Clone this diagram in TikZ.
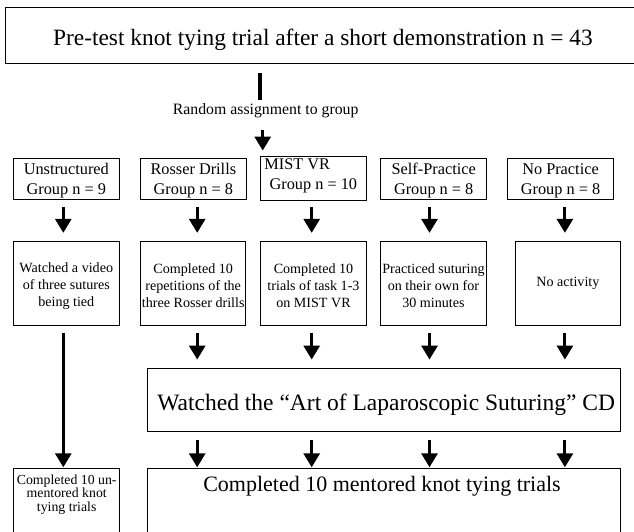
\documentclass[tikz,border=0pt]{standalone}
\usepackage{fontspec}
\setmainfont{Liberation Serif}
\usetikzlibrary{arrows.meta}
\newcommand\actstrut{\rule{0pt}{14.2pt}}
\newcommand\grpstrut{\rule{0pt}{14.5pt}}
\begin{document}
\begin{tikzpicture}[x=1pt,y=-1pt,
  box/.style={draw, line width=0.9pt, inner sep=0pt, align=center},
  grp/.style={box, font=\fontsize{16.3}{20}\selectfont, minimum height=41},
  act/.style={box, font=\fontsize{14.1}{17}\selectfont, minimum height=84},
  arr/.style={line width=3pt, -{Triangle[width=16pt,length=14pt]}},
  bar/.style={line width=3.3pt}]
\useasboundingbox (0,0) rectangle (634,531);
\clip (0,0) rectangle (634,531);

% top box
\node[box, minimum width=634.3, minimum height=56, text height=20pt, text depth=0pt,
      font=\fontsize{23.4}{28}\selectfont] (top) at (322.85,35.3)
  {Pre-test knot tying trial after a short demonstration n = 43};

\node[font=\fontsize{15.8}{19}\selectfont, inner sep=0pt] (rnd) at (265.7,110.5)
  {Random assignment to group};

% group boxes
\node[grp, minimum width=106]   (g1) at (66.3,178.5)   {\grpstrut Unstructured\\Group n = 9};
\node[grp, minimum width=105.3] (g2) at (193.35,178.5) {\grpstrut Rosser Drills\\Group n = 8};
\node[grp, minimum width=105.3, minimum height=44] (g3) at (313.35,178.7)
  {\makebox[98pt][l]{MIST VR}\\Group n = 10\rule[-9pt]{0pt}{1pt}};
\node[grp, minimum width=106]   (g4) at (433.7,178.5)  {\grpstrut Self-Practice\\Group n = 8};
\node[grp, minimum width=105.6] (g5) at (560.5,178.5)  {\grpstrut No Practice\\Group n = 8};

% activity boxes
\node[act, minimum width=106]   (a1) at (66.3,283.7)  {\actstrut Watched a video\\of three sutures\\being tied};
\node[act, minimum width=105]   (a2) at (193.2,283.7) {\actstrut Completed 10\\repetitions of the\\three Rosser drills};
\node[act, minimum width=105.6] (a3) at (313.5,283.7) {\actstrut Completed 10\\trials of task 1-3\\on MIST VR};
\node[act, minimum width=105.6] (a4) at (433.5,283.7) {\actstrut Practiced suturing\\on their own for\\30 minutes};
\node[act, minimum width=105.7] (a5) at (567.85,283.7) {No activity};

% CD box
\node[box, minimum width=473, minimum height=63.4, text height=20pt, text depth=0pt,
      font=\fontsize{23.5}{28}\selectfont] (cd) at (384.2,400)
  {\hspace*{4pt}Watched the “Art of Laparoscopic Suturing” CD};

% bottom boxes (cut off by the picture edge)
\node[box, minimum width=473, minimum height=100, anchor=north] (mt) at (384.2,468.3) {};
\node[font=\fontsize{22}{26}\selectfont, anchor=base, inner sep=0pt] (mtt) at (382,491.7)
  {Completed 10 mentored knot tying trials};
\node[box, minimum width=106, minimum height=100, anchor=north] (lb) at (66.3,468.3) {};
\node[font=\fontsize{13.8}{13.7}\selectfont, align=center, inner sep=0pt] (lbt) at (66.7,494.5)
  {Completed 10 un-\\mentored knot\\tying trials};

% column coordinates for the arrows
\coordinate (c0) at (260,0);
\coordinate (c1) at (262.7,0);
\coordinate (x1) at (63.3,0);
\coordinate (x2) at (197.2,0);
\coordinate (x3) at (311.7,0);
\coordinate (x4) at (429.5,0);
\coordinate (x5) at (564.9,0);

% connectors
\draw[bar, shorten <=9.7pt, shorten >=3.2pt] (top.south -| c0) -- (rnd.north -| c0);
\draw[arr, shorten <=12.2pt, shorten >=5.7pt] (rnd.south -| c1) -- (g3.north -| c1);

\draw[arr, shorten <=7.7pt, shorten >=8.4pt] (g1.south -| x1) -- (a1.north -| x1);
\draw[arr, shorten <=7.7pt, shorten >=8.4pt] (g2.south -| x2) -- (a2.north -| x2);
\draw[arr, shorten <=6pt,   shorten >=8.4pt] (g3.south -| x3) -- (a3.north -| x3);
\draw[arr, shorten <=7.7pt, shorten >=8.4pt] (g4.south -| x4) -- (a4.north -| x4);
\draw[arr, shorten <=7.7pt, shorten >=8.4pt] (g5.south -| x5) -- (a5.north -| x5);

\draw[arr, shorten <=7.3pt, shorten >=1pt] (a1.south -| x1) -- (lb.north -| x1);
\draw[arr, shorten <=7.3pt, shorten >=8.3pt] (a2.south -| x2) -- (cd.north -| x2);
\draw[arr, shorten <=7.3pt, shorten >=8.3pt] (a3.south -| x3) -- (cd.north -| x3);
\draw[arr, shorten <=7.3pt, shorten >=8.3pt] (a4.south -| x4) -- (cd.north -| x4);
\draw[arr, shorten <=7.3pt, shorten >=8.3pt] (a5.south -| x5) -- (cd.north -| x5);

\draw[arr, shorten <=7.6pt, shorten >=1pt] (cd.south -| x2) -- (mt.north -| x2);
\draw[arr, shorten <=7.6pt, shorten >=1pt] (cd.south -| x3) -- (mt.north -| x3);
\draw[arr, shorten <=7.6pt, shorten >=1pt] (cd.south -| x4) -- (mt.north -| x4);
\draw[arr, shorten <=7.6pt, shorten >=1pt] (cd.south -| x5) -- (mt.north -| x5);
\end{tikzpicture}
\end{document}
